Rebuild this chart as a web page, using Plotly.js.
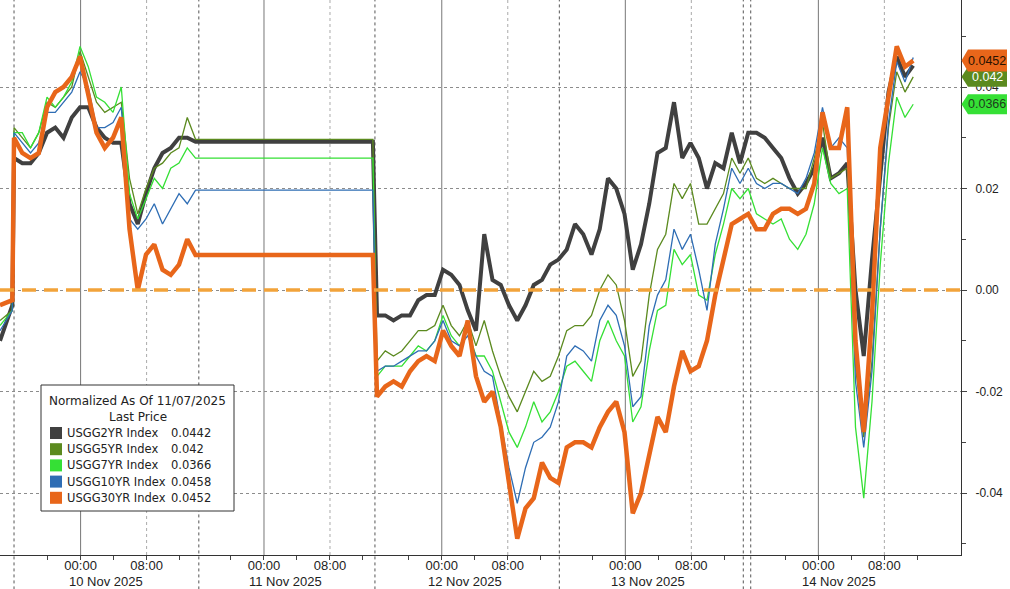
<!DOCTYPE html>
<html><head><meta charset="utf-8">
<script src="https://cdn.plot.ly/plotly-3.0.1.min.js"></script>
<style>html,body{margin:0;padding:0;background:#fff}#chart{width:1010px;height:589px}</style>
</head><body><div id="chart"></div>
<script>
// trading-hour index (hours since start of the 10 Nov session; 11 Nov cash market closed -> flat)
const hours = [-1.7,-0.2,
0,1,2,3,4,5,6,7,8,9,10,11,12,13,14,15,16,17,18,19,20,21,22,
43.5,
44,45,46,47,48,49,50,51,52,53,54,55,56,57,58,59,60,61,62,63,64,65,66,67,68,69,70,71,72,73,
74,75,76,77,78,79,80,81,82,83,84,85,86,87,88,89,90,91,92,93,94,95,96,97,98,99,100,101,102,103,
104,105,106,107,108,109];

const usgg2 = [-0.010,-0.003,
0.026,0.025,0.025,0.027,0.031,0.032,0.030,0.034,0.036,0.036,0.032,0.030,0.029,0.029,0.017,0.013,0.019,0.024,0.027,0.028,0.030,0.030,0.0292,
0.0292,
-0.005,-0.005,-0.006,-0.005,-0.005,-0.002,-0.001,-0.001,0.004,0.003,
0.001,-0.004,-0.008,0.011,0.002,0.001,-0.003,-0.006,-0.003,0.001,
0.002,0.005,0.006,0.008,0.013,0.011,0.007,0.012,0.022,0.020,
0.015,0.004,0.009,0.017,0.027,0.028,0.037,0.026,0.029,0.026,
0.020,0.025,0.024,0.031,0.025,0.031,0.031,0.030,0.028,0.026,
0.022,0.019,0.021,0.024,0.030,0.022,0.023,0.025,0.000,-0.013,
0.006,0.022,0.039,0.046,0.042,0.0442];

const usgg5 = [-0.006,-0.004,
0.032,0.030,0.028,0.031,0.037,0.036,0.038,0.040,0.047,0.042,0.037,0.035,0.036,0.037,0.022,0.015,0.020,0.024,0.025,0.027,0.028,0.034,0.0297,
0.0297,
-0.014,-0.012,-0.013,-0.012,-0.010,-0.008,-0.008,-0.007,-0.003,-0.007,
-0.009,-0.006,-0.011,-0.006,-0.012,-0.017,-0.021,-0.024,-0.020,-0.016,
-0.018,-0.017,-0.013,-0.008,-0.007,-0.007,-0.005,0.000,0.003,0.001,
-0.006,-0.017,-0.014,-0.001,0.008,0.011,0.021,0.018,0.021,0.013,
0.013,0.016,0.019,0.026,0.023,0.026,0.022,0.021,0.022,0.021,
0.020,0.020,0.020,0.026,0.033,0.022,0.023,0.024,-0.015,-0.029,
-0.014,0.012,0.032,0.043,0.039,0.042];

const usgg7 = [-0.007,-0.004,
0.031,0.031,0.028,0.031,0.038,0.036,0.038,0.041,0.048,0.044,0.038,0.037,0.035,0.040,0.019,0.014,0.018,0.022,0.020,0.024,0.025,0.028,0.026,
0.026,
-0.017,-0.015,-0.015,-0.015,-0.013,-0.011,-0.012,-0.010,-0.005,-0.009,
-0.011,-0.008,-0.013,-0.013,-0.016,-0.022,-0.028,-0.031,-0.027,-0.022,
-0.026,-0.024,-0.020,-0.015,-0.014,-0.016,-0.018,-0.010,-0.006,-0.010,
-0.013,-0.026,-0.023,-0.012,-0.004,-0.003,0.008,0.005,0.007,-0.001,
-0.002,0.007,0.013,0.020,0.018,0.020,0.015,0.014,0.013,0.014,
0.010,0.008,0.011,0.017,0.028,0.021,0.019,0.020,-0.027,-0.041,
-0.022,0.005,0.025,0.038,0.034,0.0366];

const usgg10 = [-0.008,-0.004,
0.031,0.029,0.027,0.029,0.035,0.035,0.037,0.039,0.043,0.040,0.032,0.032,0.033,0.036,0.014,0.012,0.014,0.017,0.013,0.016,0.019,0.017,0.0197,
0.0197,
-0.016,-0.015,-0.015,-0.014,-0.013,-0.012,-0.012,-0.010,-0.006,-0.010,
-0.011,-0.009,-0.013,-0.016,-0.017,-0.026,-0.035,-0.042,-0.035,-0.030,
-0.029,-0.027,-0.022,-0.013,-0.011,-0.012,-0.014,-0.006,-0.003,-0.005,
-0.011,-0.023,-0.021,-0.007,-0.001,0.002,0.012,0.008,0.011,0.004,
-0.004,0.009,0.016,0.024,0.021,0.024,0.021,0.020,0.021,0.021,
0.020,0.019,0.022,0.027,0.036,0.028,0.030,0.028,-0.018,-0.031,
-0.016,0.012,0.033,0.045,0.041,0.0458];

const usgg30 = [-0.003,-0.002,
0.030,0.027,0.026,0.027,0.036,0.039,0.040,0.042,0.046,0.038,0.031,0.028,0.030,0.034,0.012,0.000,0.007,0.009,0.004,0.003,0.005,0.010,0.0069,
0.0069,
-0.021,-0.019,-0.018,-0.019,-0.016,-0.014,-0.013,-0.014,-0.008,-0.011,
-0.013,-0.006,-0.017,-0.022,-0.020,-0.027,-0.038,-0.049,-0.043,-0.041,
-0.034,-0.037,-0.038,-0.031,-0.030,-0.030,-0.031,-0.027,-0.024,-0.022,
-0.028,-0.044,-0.040,-0.032,-0.025,-0.028,-0.019,-0.012,-0.016,-0.015,
-0.010,-0.001,0.006,0.013,0.014,0.015,0.012,0.012,0.015,0.016,
0.016,0.015,0.016,0.021,0.035,0.028,0.028,0.036,-0.010,-0.028,
-0.005,0.028,0.038,0.048,0.044,0.0452];

const seriesNames = ['USGG2YR Index','USGG5YR Index','USGG7YR Index','USGG10YR Index','USGG30YR Index'];
const lastPrices = [0.0442, 0.042, 0.0366, 0.0458, 0.0452];
const legendTitle = 'Normalized As Of 11/07/2025';
const legendSub = 'Last Price';

// x-axis calendar
const midnightPos = [8.07, 30.3, 51.85, 74.1, 97.5];
const sessionBreaks = [0, 22.4, 43.75, 66.1, 88.4, 89.3];
const dayLabels = ['10 Nov 2025','11 Nov 2025','12 Nov 2025','13 Nov 2025','14 Nov 2025'];
const dayLabelPos = [11.2, 32.9, 54.7, 76.9, 100.0];
const yTickVals = [-0.04,-0.02,0,0.02,0.04];
const yTickText = ['-0.04','-0.02','0.00','0.02','0.04'];
const yMinorVals = [-0.05,-0.03,-0.01,0.01,0.03,0.05];

// ---- styling / layout ----
const colors = ['#404040','#5B8A1F','#35E035','#2E6DB4','#E8661A'];
const widths = [4, 1.3, 1.3, 1.3, 4.5];
const seriesData = [usgg2, usgg5, usgg7, usgg10, usgg30];

const W = 1010, H = 589, M = {l:0, r:49, t:0, b:34};
const pw = W - M.l - M.r, ph = H - M.t - M.b;
const X0 = -1.7, X1 = 114.79, Y0 = -0.0522, Y1 = 0.05714;
const pxX = px => (px - M.l) / pw;
const pxY = py => (H - M.b - py) / ph;
const FONT_AX = 'Liberation Sans, Arial, sans-serif';
const FONT_LG = 'DejaVu Sans, Verdana, sans-serif';

const traces = seriesData.map((d, i) => ({
  type: 'scatter', mode: 'lines', x: hours, y: d, name: seriesNames[i],
  line: {color: colors[i], width: widths[i]}, hoverinfo: 'skip'
}));

const majorVals = [], majorText = [], minorVals = [];
midnightPos.forEach(m => {
  majorVals.push(m, m + 8); majorText.push('00:00', '08:00');
  minorVals.push(m - 4, m + 4, m + 12);
});

const shapes = [];
const annotations = [];
// vertical grid lines
midnightPos.forEach(m => {
  shapes.push({type:'line', xref:'x', yref:'paper', x0:m, x1:m, y0:0, y1:1, layer:'below',
    line:{color:'#777', width:1}});
  shapes.push({type:'line', xref:'x', yref:'paper', x0:m+8, x1:m+8, y0:0, y1:1, layer:'below',
    line:{color:'#aaa', width:1, dash:'3px,3px'}});
});
sessionBreaks.forEach(s => {
  shapes.push({type:'line', xref:'x', yref:'paper', x0:s, x1:s, y0:-0.062, y1:1, layer:'below',
    line:{color:'#555', width:1, dash:'3px,3px'}});
});
// zero reference line
shapes.push({type:'line', xref:'paper', yref:'y', x0:0, x1:1, y0:0, y1:0, layer:'above',
  line:{color:'#F2A33A', width:3.5, dash:'14px,8px'}});

// legend box
shapes.push({type:'rect', xref:'paper', yref:'paper', x0:pxX(41), x1:pxX(234), y0:pxY(511), y1:pxY(385),
  fillcolor:'#ffffff', line:{color:'#333', width:1}, layer:'above'});
annotations.push({xref:'paper', yref:'paper', x:pxX(137.5), y:pxY(401), text:legendTitle, showarrow:false,
  xanchor:'center', yanchor:'middle', font:{family:FONT_LG, size:12, color:'#222'}});
annotations.push({xref:'paper', yref:'paper', x:pxX(137.5), y:pxY(417), text:legendSub, showarrow:false,
  xanchor:'center', yanchor:'middle', font:{family:FONT_LG, size:12, color:'#222'}});
seriesNames.forEach((n, i) => {
  const cy = 433 + i * 16.2;
  shapes.push({type:'rect', xref:'paper', yref:'paper', x0:pxX(50), x1:pxX(62), y0:pxY(cy+6), y1:pxY(cy-6),
    fillcolor:colors[i], line:{width:0}, layer:'above'});
  annotations.push({xref:'paper', yref:'paper', x:pxX(65), y:pxY(cy), text:n, showarrow:false,
    xanchor:'left', yanchor:'middle', font:{family:FONT_LG, size:11.5, color:'#222'}});
  annotations.push({xref:'paper', yref:'paper', x:pxX(169), y:pxY(cy), text:String(lastPrices[i]), showarrow:false,
    xanchor:'left', yanchor:'middle', font:{family:FONT_LG, size:11.5, color:'#222'}});
});

// date labels
dayLabels.forEach((t, i) => {
  annotations.push({xref:'x', yref:'paper', x:dayLabelPos[i], y:pxY(581.5), text:t, showarrow:false,
    xanchor:'center', yanchor:'middle', font:{family:FONT_AX, size:13, color:'#222'}});
});

// last-price tags (drawn order: 5Y, 7Y, 30Y on top)
function tag(idx, textColor, halfPx) {
  const v = lastPrices[idx];
  const dy = halfPx * (Y1 - Y0) / ph;
  const xt = pxX(961.5), xb = pxX(968), xr = pxX(1007);
  shapes.push({type:'path', xref:'paper', yref:'y', layer:'above',
    path:`M ${xt},${v} L ${xb},${v+dy} L ${xr},${v+dy} L ${xr},${v-dy} L ${xb},${v-dy} Z`,
    fillcolor: colors[idx], line:{width:0}});
  annotations.push({xref:'paper', yref:'y', x:pxX(987.5), y:v, text:String(v), showarrow:false,
    xanchor:'center', yanchor:'middle', font:{family:FONT_AX, size:12.5, color:textColor}});
}
tag(1, '#ffffff', 10);
tag(2, '#1d3d1d', 10);
tag(4, '#2a1200', 11);

const layout = {
  width: W, height: H, margin: M, autosize: false,
  paper_bgcolor: '#ffffff', plot_bgcolor: 'rgba(0,0,0,0)',
  showlegend: false,
  xaxis: {
    range: [X0, X1], showgrid: false, zeroline: false,
    showline: true, linecolor: '#333', linewidth: 1,
    tickmode: 'array', tickvals: majorVals, ticktext: majorText,
    ticks: 'outside', ticklen: 4, tickcolor: '#444', ticklabelstandoff: -6,
    tickfont: {family: FONT_AX, size: 13, color: '#222'},
    minor: {tickmode: 'array', tickvals: minorVals, ticks: 'outside', ticklen: 4, tickcolor: '#444', showgrid: false},
    fixedrange: true
  },
  yaxis: {
    range: [Y0, Y1], side: 'right', zeroline: false,
    showline: true, linecolor: '#333', linewidth: 1,
    showgrid: true, gridcolor: '#8c8c8c', gridwidth: 1, griddash: 'dot',
    tickmode: 'array', tickvals: yTickVals, ticktext: yTickText,
    ticks: 'outside', ticklen: 5, tickcolor: '#444', ticklabelstandoff: 6,
    tickfont: {family: FONT_AX, size: 12, color: '#222'},
    minor: {tickmode: 'array', tickvals: yMinorVals, ticks: 'outside', ticklen: 4, tickcolor: '#444', showgrid: false},
    fixedrange: true
  },
  shapes: shapes,
  annotations: annotations
};

Plotly.newPlot('chart', traces, layout, {staticPlot: true, displayModeBar: false});
</script>
</body></html>
